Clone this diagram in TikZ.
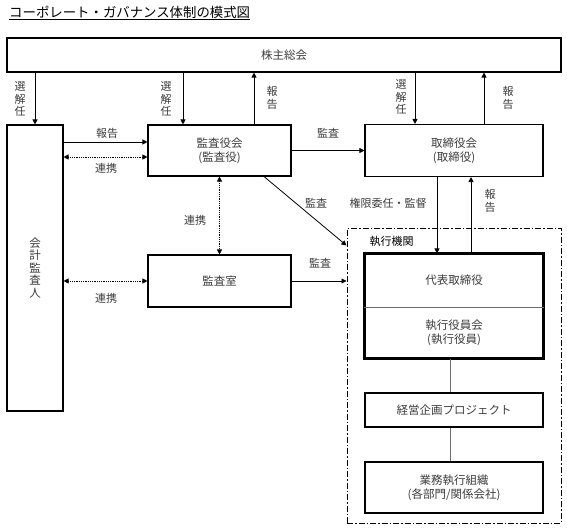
\documentclass[tikz,border=0pt]{standalone}
\usepackage{fontspec}
\setmainfont{Noto Sans CJK JP}
\usepackage{tikz}
\usetikzlibrary{arrows.meta, positioning, calc}
\definecolor{linegray}{RGB}{110,110,110}
\definecolor{inkgray}{RGB}{60,60,60}

\begin{document}
\begin{tikzpicture}[x=1pt, y=-1pt,
    box/.style={rectangle, draw, line width=1.1pt, align=center, text=inkgray,
                font=\fontsize{11.5}{14}\selectfont, inner sep=0pt},
    boldbox/.style={box, line width=2.4pt},
    lbl/.style={font=\fontsize{11}{12.5}\selectfont, text=inkgray, align=center, inner sep=0pt},
    arr/.style={-{Triangle[length=5pt, width=5pt]}, line width=0.8pt},
    duo/.style={{Triangle[length=5pt, width=5pt]}-{Triangle[length=5pt, width=5pt]},
                line width=0.8pt, densely dotted}
]
\useasboundingbox (0,0) rectangle (567,530);

% Title
\node[anchor=west, font=\fontsize{13.4}{15}\selectfont, inner sep=0pt] (title) at (9,13)
    {\underline{コーポレート・ガバナンス体制の模式図}};

% Shareholders meeting
\node[box, minimum width=554pt, minimum height=34pt] (kabunushi) at (284,55) {株主総会};

% Accounting auditor
\node[box, minimum width=56pt, minimum height=286pt, font=\fontsize{11.5}{12.5}\selectfont]
    (kaikei) at (35,268) {会\\計\\監\\査\\人};

% Audit side
\node[box, minimum width=143pt, minimum height=51pt] (kansayaku) at (219.5,150.5) {監査役会\\(監査役)};
\node[box, minimum width=143pt, minimum height=52pt] (kansashitsu) at (219.5,281) {監査室};

% Board
\node[box, minimum width=178pt, minimum height=52pt] (torishimari) at (454,150.5) {取締役会\\(取締役)};

% Execution body (dash-dot frame)
\node[draw, line width=1pt, dash pattern=on 6pt off 2pt on 1.5pt off 2pt,
      minimum width=214pt, minimum height=295pt] (shikko) at (454,375.5) {};
\node[lbl, anchor=north west, text=black] (shikkolbl) at ([xshift=23pt, yshift=-8.5pt]shikko.north west) {執行機関};

\node[box, draw=none, minimum width=178pt, minimum height=53pt] (daihyo) at (454,280.5) {代表取締役};
\node[box, draw=none, minimum width=178pt, minimum height=51pt] (yakuin) at (454,332.5) {執行役員会\\(執行役員)};
\draw[line width=2.4pt] (daihyo.north west) rectangle (yakuin.south east);
\draw[line width=1pt, linegray] (daihyo.south west) -- (daihyo.south east);

\node[boldbox, minimum width=178pt, minimum height=34pt] (kikaku) at (454,410) {経営企画プロジェクト};
\node[box, minimum width=178pt, minimum height=51pt] (gyomu) at (454,487.5) {業務執行組織\\(各部門/関係会社)};

% Attachment points
\coordinate (sel2) at ([xshift=-36.5pt]kansayaku.north);
\coordinate (rep2) at ([xshift=34.5pt]kansayaku.north);
\coordinate (sel3) at ([xshift=-39pt]torishimari.north);
\coordinate (rep3) at ([xshift=30pt]torishimari.north);
\coordinate (aud1) at ([yshift=8.5pt]kansayaku.west);
\coordinate (coop1) at ([yshift=-6.5pt]kansayaku.west);
\coordinate (aud2) at ([xshift=44.5pt]kansayaku.south);
\coordinate (del) at ([xshift=-17pt]torishimari.south);
\coordinate (rep4) at ([xshift=17pt]torishimari.south);
\coordinate (link) at ([xshift=-4pt]yakuin.south);

% Shareholders <-> organs
\draw[arr] (kabunushi.south -| kaikei.north) -- (kaikei.north);
\draw[arr] (kabunushi.south -| sel2) -- (sel2);
\draw[arr] (rep2) -- (kabunushi.south -| rep2);
\draw[arr] (kabunushi.south -| sel3) -- (sel3);
\draw[arr] (rep3) -- (kabunushi.south -| rep3);

\node[lbl] (l1) at (20,99) {選\\解\\任};
\node[lbl] (l2) at (166,99) {選\\解\\任};
\node[lbl] (l3) at (272,98) {報\\告};
\node[lbl] (l4) at (401,97) {選\\解\\任};
\node[lbl] (l5) at (508,98) {報\\告};

% Auditor links
\draw[arr] (kaikei.east |- aud1) -- (aud1);
\draw[duo] (kaikei.east |- coop1) -- (coop1);
\draw[duo] (kaikei.east |- kansashitsu.west) -- (kansashitsu.west);
\draw[duo] (kansayaku.south) -- (kansashitsu.north);

\node[lbl] (l6) at (107,133) {報告};
\node[lbl] (l7) at (106,168) {連携};
\node[lbl] (l8) at (106,298) {連携};
\node[lbl] (l9) at (195,220) {連携};

% Audits
\draw[arr] (kansayaku.east) -- (torishimari.west);
\draw[arr] (aud2) -- ([yshift=-18pt]shikko.north west);
\draw[arr] (kansashitsu.east) -- (kansashitsu.east -| shikko.west);

\node[lbl] (l10) at (328,133) {監査};
\node[lbl] (l11) at (316,203) {監査};
\node[lbl] (l12) at (320,263) {監査};

% Board <-> execution
\draw[arr] (del) -- (daihyo.north -| del);
\draw[arr] (daihyo.north -| rep4) -- (rep4);
\node[lbl] (l13) at (388,203) {権限委任・監督};
\node[lbl] (l14) at (490,201) {報\\告};

% Inside execution body
\draw[line width=0.8pt, linegray] (link) -- (kikaku.north -| link);
\draw[line width=0.8pt, linegray] (kikaku.south -| link) -- (gyomu.north -| link);

\end{tikzpicture}
\end{document}
